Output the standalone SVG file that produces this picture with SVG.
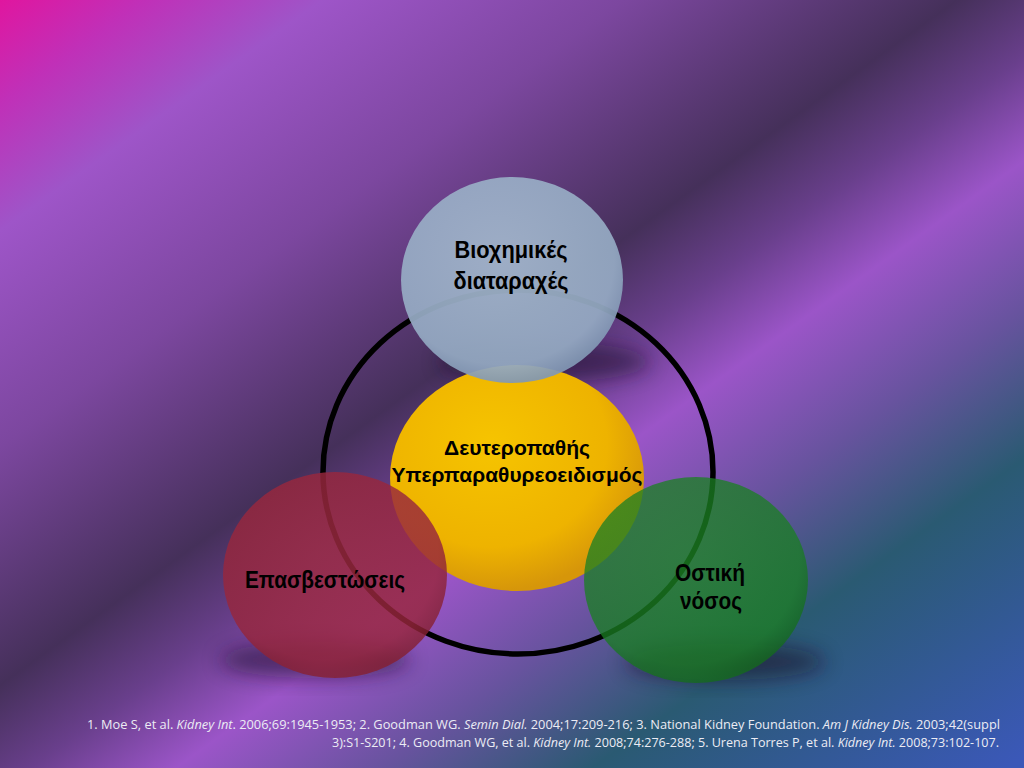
<svg xmlns="http://www.w3.org/2000/svg" width="1024" height="768" viewBox="0 0 1024 768">
  <defs>
    <linearGradient id="bg" gradientUnits="userSpaceOnUse" x1="0" y1="0" x2="705" y2="985">
      <stop offset="0" stop-color="#e0169f"/>
      <stop offset="0.07" stop-color="#c030b8"/>
      <stop offset="0.155" stop-color="#9e55c8"/>
      <stop offset="0.30" stop-color="#7c479f"/>
      <stop offset="0.46" stop-color="#45305a"/>
      <stop offset="0.53" stop-color="#693f8c"/>
      <stop offset="0.60" stop-color="#9b55c8"/>
      <stop offset="0.70" stop-color="#67539e"/>
      <stop offset="0.80" stop-color="#2a5a72"/>
      <stop offset="1" stop-color="#3b58b8"/>
    </linearGradient>
    <radialGradient id="gBlue" cx="0.45" cy="0.4" r="0.6">
      <stop offset="0" stop-color="#a3b6cc"/>
      <stop offset="0.85" stop-color="#95aac3"/>
      <stop offset="1" stop-color="#8298b4"/>
    </radialGradient>
    <radialGradient id="gYellow" cx="0.4" cy="0.35" r="0.65">
      <stop offset="0" stop-color="#f6c400"/>
      <stop offset="0.7" stop-color="#eeb300"/>
      <stop offset="1" stop-color="#d6960a"/>
    </radialGradient>
    <radialGradient id="gRed" cx="0.45" cy="0.4" r="0.6">
      <stop offset="0" stop-color="#9c2a40"/>
      <stop offset="0.85" stop-color="#97263c"/>
      <stop offset="1" stop-color="#862032"/>
    </radialGradient>
    <radialGradient id="gGreen" cx="0.45" cy="0.4" r="0.6">
      <stop offset="0" stop-color="#1d8624"/>
      <stop offset="0.85" stop-color="#1a7e22"/>
      <stop offset="1" stop-color="#146c1a"/>
    </radialGradient>
    <filter id="blur" x="-50%" y="-50%" width="200%" height="200%">
      <feGaussianBlur stdDeviation="10"/>
    </filter>
    <style>
      .lbl { font-family: "Liberation Sans", Arial, sans-serif; font-weight: bold; font-size: 23px; fill: #000; text-anchor: middle; }
      .sm { font-size: 21px; }
      .cit { font-family: "Open Sans", "Liberation Sans", sans-serif; font-size: 12.5px; fill: #ececf4; text-anchor: end; }
      .it { font-style: italic; }
      .shadow { fill: #1a0f2a; opacity: 0.55; filter: url(#blur); }
    </style>
  </defs>

  <rect x="0" y="0" width="1024" height="768" fill="url(#bg)"/>

  <g id="shadows">
    <ellipse class="shadow" cx="545" cy="362" rx="105" ry="20"/>
    <ellipse class="shadow" cx="315" cy="660" rx="95" ry="18"/>
    <ellipse class="shadow" cx="725" cy="662" rx="100" ry="18"/>
  </g>

  <g id="connectors">
    <ellipse cx="518" cy="472" rx="195" ry="182" fill="none" stroke="#000" stroke-width="5.5"/>
  </g>

  <g id="node-center">
    <ellipse cx="517" cy="478" rx="127" ry="113" fill="url(#gYellow)"/>
    <text class="lbl sm" x="517" y="455" textLength="146" lengthAdjust="spacingAndGlyphs">Δευτεροπαθής</text>
    <text class="lbl sm" x="517" y="482" textLength="251" lengthAdjust="spacingAndGlyphs">Υπερπαραθυρεοειδισμός</text>
  </g>

  <g id="node-top">
    <ellipse cx="512" cy="280" rx="111" ry="103" fill="url(#gBlue)" opacity="0.93"/>
    <text class="lbl" x="511" y="258" textLength="113" lengthAdjust="spacingAndGlyphs">Βιοχημικές</text>
    <text class="lbl" x="511" y="289" textLength="115" lengthAdjust="spacingAndGlyphs">διαταραχές</text>
  </g>

  <g id="node-left">
    <ellipse cx="335" cy="575" rx="112" ry="103" fill="url(#gRed)" opacity="0.82"/>
    <text class="lbl" x="325" y="588" textLength="160" lengthAdjust="spacingAndGlyphs">Επασβεστώσεις</text>
  </g>

  <g id="node-right">
    <ellipse cx="696" cy="580" rx="112" ry="103" fill="url(#gGreen)" opacity="0.76"/>
    <text class="lbl" x="710" y="581" textLength="70" lengthAdjust="spacingAndGlyphs">Οστική</text>
    <text class="lbl" x="711" y="609" textLength="62" lengthAdjust="spacingAndGlyphs">νόσος</text>
  </g>

  <g id="citations">
    <text class="cit" x="1000" y="729" textLength="913" lengthAdjust="spacingAndGlyphs">1. Moe S, et al. <tspan class="it">Kidney Int</tspan>. 2006;69:1945-1953; 2. Goodman  WG. <tspan class="it">Semin Dial.</tspan> 2004;17:209-216; 3. National Kidney Foundation. <tspan class="it">Am J Kidney Dis.</tspan> 2003;42(suppl</text>
    <text class="cit" x="999" y="747" textLength="667" lengthAdjust="spacingAndGlyphs">3):S1-S201; 4. Goodman WG, et al. <tspan class="it">Kidney Int.</tspan> 2008;74:276-288; 5. Urena Torres P, et al. <tspan class="it">Kidney Int.</tspan> 2008;73:102-107.</text>
  </g>
</svg>
